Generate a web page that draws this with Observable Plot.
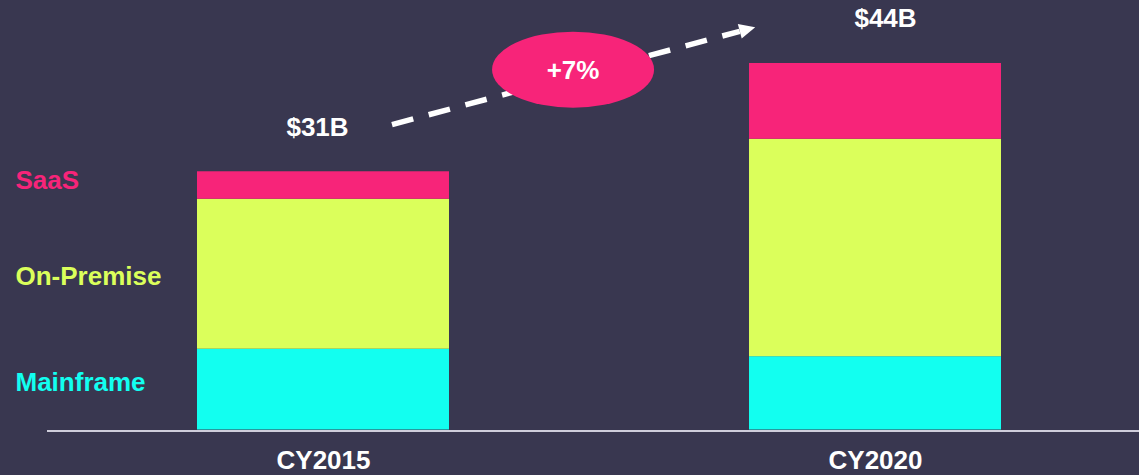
<!DOCTYPE html>
<html><head><meta charset="utf-8">
<script src="https://cdn.jsdelivr.net/npm/d3@7"></script>
<script src="https://cdn.jsdelivr.net/npm/@observablehq/plot@0.6"></script>
<style>
html,body{margin:0;padding:0;background:#393750;}
#chart{width:1139px;height:475px;overflow:hidden;}
</style>
</head><body><div id="chart"></div>
<script>
// ---- data ----
const years = ["CY2015", "CY2020"];
const segments = ["Mainframe", "On-Premise", "SaaS"];
const mainframe = [9.7, 8.8];
const onPremise = [18.0, 26.1];
const saas = [3.3, 9.1];
const totalLabels = ["$31B", "$44B"];
const segmentColors = ["#12fff0", "#dbff5b", "#f72479"];

// ---- derived tables ----
const series = [mainframe, onPremise, saas];
const rows = [];
years.forEach((yr, i) => series.forEach((arr, j) => rows.push({year: yr, segment: segments[j], value: arr[i]})));
const totals = years.map((yr, i) => ({year: yr, total: mainframe[i] + onPremise[i] + saas[i], label: totalLabels[i]}));
const cagr = Math.pow(totals[1].total / totals[0].total, 1 / (2020 - 2015)) - 1;
const growthLabel = "+" + Math.round(cagr * 100) + "%";

// segment midpoints of the first bar, for the left-hand labels
let acc = 0;
const legendRows = segments.map((s, j) => {
  const v = series[j][0];
  const mid = acc + v / 2;
  acc += v;
  return {segment: s, mid, color: segmentColors[j]};
});
const legendDy = [-7, 2, -5];

const FONT = "'Liberation Sans', Arial, sans-serif";

// annotation: dashed growth arrow with ellipse badge, positioned through the scales
function growthAnnotation(index, scales) {
  const x = scales.x, y = scales.y;
  const bw = typeof x.bandwidth === "function" ? x.bandwidth() : (x.bandwidth || 0);
  const c0 = x(years[0]) + bw / 2, c1 = x(years[1]) + bw / 2;
  const px = t => c0 + t * (c1 - c0);
  const sx = px(0.125), sy = y(totals[0].total + 5.6);
  const tx = px(0.783), ty = y(totals[1].total + 4.3);
  const dx = tx - sx, dy = ty - sy, len = Math.hypot(dx, dy);
  const ux = dx / len, uy = dy / len, nx = -uy, ny = ux;
  const head = 16, half = 7.5;
  const bx = tx - ux * head, by = ty - uy * head;
  const g = d3.create("svg:g");
  g.append("line")
    .attr("x1", sx).attr("y1", sy).attr("x2", bx).attr("y2", by)
    .attr("stroke", "white").attr("stroke-width", 5.5)
    .attr("stroke-dasharray", "22 16");
  g.append("polygon")
    .attr("points", [[tx, ty], [bx + nx * half, by + ny * half], [bx - nx * half, by - ny * half]].map(p => p.join(",")).join(" "))
    .attr("fill", "white");
  const ex = px(0.453), ey = y(43.2);
  g.append("ellipse")
    .attr("cx", ex).attr("cy", ey).attr("rx", 81).attr("ry", 38)
    .attr("fill", "#f72479");
  g.append("text")
    .attr("x", ex).attr("y", ey).attr("dy", "0.36em")
    .attr("text-anchor", "middle")
    .attr("fill", "white")
    .attr("font-family", FONT).attr("font-weight", "bold").attr("font-size", 26)
    .text(growthLabel);
  return g.node();
}

const chart = Plot.plot({
  width: 1139,
  height: 475,
  marginLeft: 47,
  marginRight: 0,
  marginTop: 0,
  marginBottom: 45,
  style: {background: "#393750", fontFamily: FONT, overflow: "visible"},
  x: {type: "band", domain: years, range: [197, 1001], paddingInner: 0.5435, paddingOuter: 0, round: false, axis: null},
  y: {domain: [0, 50], range: [429.5, 13], axis: null},
  color: {domain: segments, range: segmentColors},
  marks: [
    Plot.barY(rows, {x: "year", y: "value", fill: "segment"}),
    Plot.ruleY([0], {stroke: "#cfcddb", strokeWidth: 2, dy: 1}),
    ...legendRows.map((d, j) => Plot.text([d], {
      y: "mid", frameAnchor: "left", dx: -32, dy: legendDy[j], textAnchor: "start",
      text: "segment", fill: d.color, fontSize: 26, fontWeight: "bold"
    })),
    Plot.text([totals[0]], {x: "year", y: "total", text: "label", dx: -6, dy: -44.5,
      fill: "white", fontSize: 26, fontWeight: "bold"}),
    Plot.text([totals[1]], {x: "year", y: "total", text: "label", dx: 10, dy: -44.5,
      fill: "white", fontSize: 26, fontWeight: "bold"}),
    Plot.text(years, {x: d => d, text: d => d, frameAnchor: "bottom", lineAnchor: "top", dy: 20,
      fill: "white", fontSize: 26, fontWeight: "bold"}),
    growthAnnotation
  ]
});
document.getElementById("chart").appendChild(chart);
</script>
</body></html>
